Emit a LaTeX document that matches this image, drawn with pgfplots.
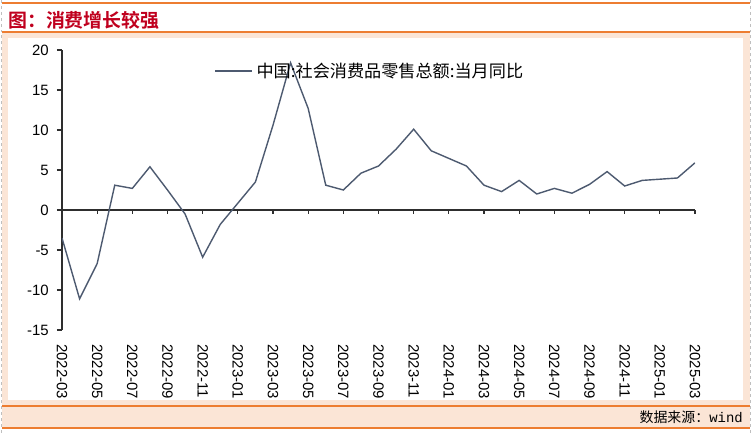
\documentclass[border=0pt]{standalone}
\usepackage{pgfplots}
\pgfplotsset{compat=1.18}
\usepackage{fontspec}
\setmainfont{Liberation Sans}
\newfontfamily\cjk{Noto Sans CJK SC}[BoldFont={* Bold}]
\newfontfamily\monof{Liberation Mono}
\definecolor{peach}{HTML}{FBE5D6}
\definecolor{orng}{HTML}{ED7D31}
\definecolor{ln}{HTML}{4D5A70}
\definecolor{ttl}{HTML}{C0001E}
\definecolor{axc}{HTML}{2E2E2E}
\definecolor{dashgrey}{HTML}{BFBFBF}
\pgfplotstableread{
x y
0 -3.5
1 -11.1
2 -6.7
3 3.1
4 2.7
5 5.4
6 2.5
7 -0.5
8 -5.9
9 -1.8
11 3.5
12 10.6
13 18.4
14 12.7
15 3.1
16 2.5
17 4.6
18 5.5
19 7.6
20 10.1
21 7.4
23 5.5
24 3.1
25 2.3
26 3.7
27 2.0
28 2.7
29 2.1
30 3.2
31 4.8
32 3.0
33 3.7
35 4.0
36 5.9
}\retail
\begin{document}
\begin{tikzpicture}
\useasboundingbox (0bp,0bp) rectangle (752bp,433bp);
% background panels
\fill[peach] (2bp,5bp) rectangle (750bp,400bp);
\fill[white] (8bp,33bp) rectangle (743bp,395bp);
\draw[orng, line width=1.2bp] (2bp,430bp) -- (750bp,430bp);
\draw[orng, line width=1.2bp] (2bp,401bp) -- (750bp,401bp);
\draw[orng, line width=1.2bp] (2bp,27bp) -- (750bp,27bp);
\draw[orng, line width=1.2bp] (2bp,5bp) -- (750bp,5bp);
\draw[dashgrey, dashed, line width=0.8bp] (1.5bp,0bp) -- (1.5bp,433bp);
\draw[dashgrey, dashed, line width=0.8bp] (750.5bp,0bp) -- (750.5bp,433bp);
\node[anchor=west, inner sep=0pt, text=ttl, font=\cjk\bfseries\fontsize{19}{19}\selectfont] at (8bp,413bp) {图：消费增长较强};
\node[anchor=east, inner sep=0pt, font=\fontsize{14}{14}\selectfont] at (743bp,16bp) {\cjk 数据来源：\monof wind};
% zero line axis
\begin{axis}[
  at={(62bp,103bp)}, anchor=south west, scale only axis, width=633bp, height=280bp,
  xmin=0, xmax=36, ymin=-15, ymax=20,
  axis x line*=middle, axis y line=none,
  xtick={2,4,...,36}, xticklabels={}, ytick=\empty,
  tick align=outside, major tick length=4bp,
  x axis line style={line width=2bp, draw=axc},
  x tick style={line width=1.2bp, draw=axc},
]
\addplot[draw=none] coordinates {(0,0)};
\end{axis}
% main axis
\begin{axis}[
  at={(62bp,103bp)}, anchor=south west, scale only axis, width=633bp, height=280bp,
  xmin=0, xmax=36, ymin=-15, ymax=20,
  axis y line*=left, axis x line*=bottom,
  x axis line style={draw=none},
  y axis line style={line width=1.2bp, draw=axc},
  xtick={0,2,...,36},
  xticklabels={2022-03,2022-05,2022-07,2022-09,2022-11,2023-01,2023-03,2023-05,2023-07,2023-09,2023-11,2024-01,2024-03,2024-05,2024-07,2024-09,2024-11,2025-01,2025-03},
  x tick style={draw=none},
  xticklabel style={rotate=-90, anchor=west, font=\fontsize{15}{15}\selectfont, inner sep=0pt},
  xticklabel shift=9bp,
  ytick={-15,-10,...,20},
  y tick style={line width=1.2bp, draw=axc},
  tick align=outside, major tick length=5bp,
  yticklabel style={font=\fontsize{15}{15}\selectfont, inner sep=0pt},
  yticklabel shift=8bp,
  /pgf/number format/assume math mode=true,
  legend style={draw=none, fill=none, inner sep=0pt, at={(0.2409,0.925)}, anchor=west,
    nodes={inner sep=3.5bp}, font=\cjk\fontsize{17.2}{17.2}\selectfont},
  legend image code/.code={\draw[#1] (0bp,0bp) -- (37bp,0bp);},
]
\addplot[color=ln, line width=1.4bp] table[x=x,y=y] {\retail};
\addlegendentry{中国:社会消费品零售总额:当月同比}
\end{axis}
\end{tikzpicture}
\end{document}
